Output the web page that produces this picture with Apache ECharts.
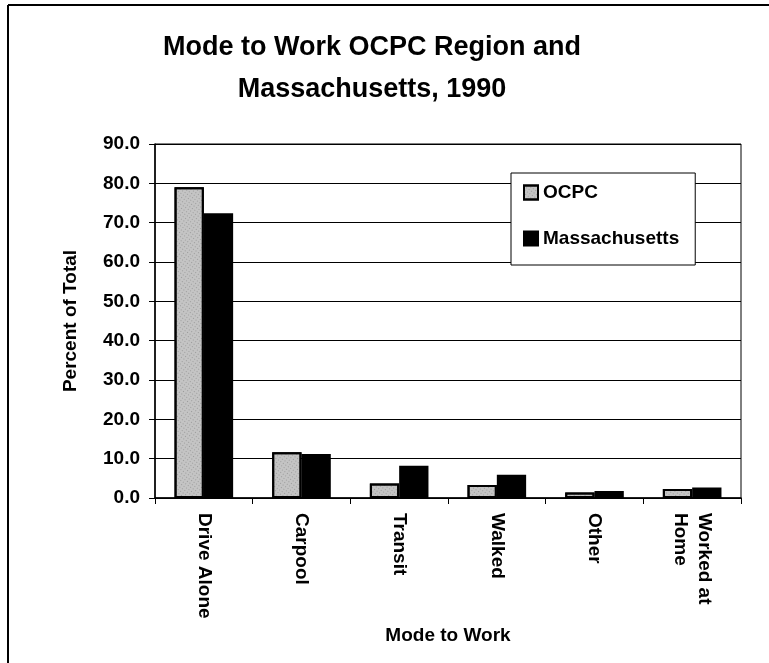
<!DOCTYPE html>
<html>
<head>
<meta charset="utf-8">
<script src="https://cdn.jsdelivr.net/npm/echarts@6/dist/echarts.min.js"></script>
<style>
  html, body { margin: 0; padding: 0; background: #fff; }
  #chart { width: 769px; height: 663px; }
</style>
</head>
<body>
<div id="chart"></div>
<script>
var dom = document.getElementById("chart");
var myChart = echarts.init(dom);

// data
var categories = ['Drive Alone', 'Carpool', 'Transit', 'Walked', 'Other', 'Worked at\nHome'];
var ocpc = [79.0, 11.6, 3.7, 3.3, 1.4, 2.3];
var massachusetts = [72.4, 11.2, 8.2, 5.9, 1.8, 2.7];
var yTicks = [0, 10, 20, 30, 40, 50, 60, 70, 80, 90];

var font = 'Liberation Sans, Arial, sans-serif';

option = {
    backgroundColor: 'white',
    animation: false,
    textStyle: { fontFamily: font },

    title: {
        text: 'Mode to Work OCPC Region and\nMassachusetts, 1990',
        left: 367,
        textAlign: 'center',
        top: 22,
        textStyle: {
            color: '#000',
            fontFamily: font,
            fontWeight: 'bold',
            fontSize: 27,
            lineHeight: 42
        }
    },

    legend: {
        orient: 'vertical',
        left: 511,
        top: 173,
        icon: 'rect',
        itemWidth: 14,
        itemHeight: 14,
        itemGap: 27,
        padding: [10, 16, 17, 12],
        backgroundColor: '#fff',
        borderColor: '#000',
        borderWidth: 1,
        textStyle: {
            color: '#000',
            fontWeight: 'bold',
            fontSize: 19,
            fontFamily: font
        },
        data: ['OCPC', 'Massachusetts']
    },

    grid: {
        left: 155,
        right: 28,
        top: 144,
        bottom: 165,
        show: true,
        borderColor: '#000',
        borderWidth: 1
    },

    xAxis: {
        type: 'category',
        data: categories,
        name: 'Mode to Work',
        nameLocation: 'middle',
        nameGap: 126,
        nameTextStyle: {
            color: '#000',
            fontWeight: 'bold',
            fontSize: 19,
            fontFamily: font
        },
        axisLine: { lineStyle: { color: '#000', width: 1.5 } },
        axisTick: { show: true, length: 6, lineStyle: { color: '#000' } },
        axisLabel: {
            rotate: -90,
            interval: 0,
            margin: 15,
            color: '#000',
            fontWeight: 'bold',
            fontSize: 19,
            fontFamily: font,
            lineHeight: 24
        }
    },

    yAxis: {
        type: 'value',
        min: yTicks[0],
        max: yTicks[yTicks.length - 1],
        interval: 10,
        name: 'Percent of Total',
        nameLocation: 'middle',
        nameGap: 75,
        nameTextStyle: {
            color: '#000',
            fontWeight: 'bold',
            fontSize: 19,
            fontFamily: font
        },
        axisLine: { show: true, lineStyle: { color: '#000', width: 1.5 } },
        axisTick: { show: true, length: 6, lineStyle: { color: '#000' } },
        axisLabel: {
            margin: 15,
            color: '#000',
            fontWeight: 'bold',
            fontSize: 19,
            fontFamily: font,
            formatter: function (v) { return v.toFixed(1); }
        },
        splitLine: { lineStyle: { color: '#000', width: 1 } }
    },

    series: [
        {
            name: 'OCPC',
            type: 'bar',
            data: ocpc,
            barGap: '0%',
            barCategoryGap: '40%',
            itemStyle: {
                color: '#c4c4c4',
                borderColor: '#000',
                borderWidth: 2,
                decal: {
                    symbol: 'rect',
                    symbolSize: 0.7,
                    color: 'rgba(0,0,0,0.6)',
                    dashArrayX: [1, 2],
                    dashArrayY: [1, 2],
                    rotation: 0.6
                }
            }
        },
        {
            name: 'Massachusetts',
            type: 'bar',
            data: massachusetts,
            itemStyle: {
                color: '#000',
                borderColor: '#000',
                borderWidth: 2
            }
        }
    ],

    graphic: [
        { type: 'line', shape: { x1: 8, y1: 5, x2: 8, y2: 663 }, style: { stroke: '#000', lineWidth: 2 } },
        { type: 'line', shape: { x1: 8, y1: 5, x2: 769, y2: 5 }, style: { stroke: '#000', lineWidth: 2 } }
    ]
};

if (option && typeof option === "object") {
    myChart.setOption(option, true);
}
</script>
</body>
</html>
